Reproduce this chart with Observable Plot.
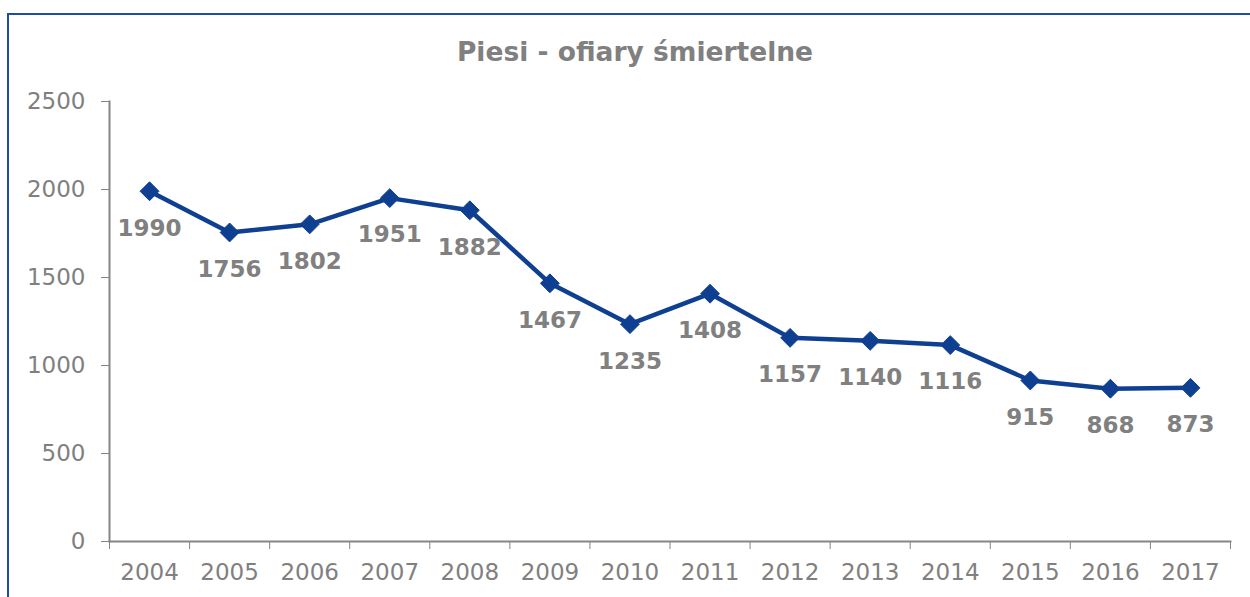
<!DOCTYPE html>
<html>
<head>
<meta charset="utf-8">
<script src="https://cdn.jsdelivr.net/npm/d3@7"></script>
<script src="https://cdn.jsdelivr.net/npm/@observablehq/plot@0.6"></script>
<style>
  html, body { margin: 0; padding: 0; background: #fff; overflow: hidden; }
  #wrap { position: relative; width: 1250px; height: 597px; overflow: hidden; }
  #frame { position: absolute; left: 7px; top: 13px; width: 1400px; height: 800px; border: 2px solid #1f4ea1; box-sizing: border-box; }
  #title { position: relative; height: 80px; box-sizing: border-box; padding-top: 36px; text-align: center; font-family: "DejaVu Sans", Verdana, sans-serif; font-weight: bold; font-size: 26.5px; line-height: 32px; color: #808080; padding-left: 20px; }
  #chart { position: relative; }
</style>
</head>
<body>
<div id="wrap">
  <div id="frame"></div>
  <div id="title">Piesi - ofiary śmiertelne</div>
  <div id="chart"></div>
</div>
<script>
const years = [2004, 2005, 2006, 2007, 2008, 2009, 2010, 2011, 2012, 2013, 2014, 2015, 2016, 2017];
const deaths = [1990, 1756, 1802, 1951, 1882, 1467, 1235, 1408, 1157, 1140, 1116, 915, 868, 873];
const yTicks = [0, 500, 1000, 1500, 2000, 2500];

const data = years.map((y, i) => ({year: y, value: deaths[i]}));
const boundaries = [...years.map(y => y - 0.5), years[years.length - 1] + 0.5];

const gray = "#868686";
const textGray = "#808080";
const blue = "#0f3f91";

const plot = Plot.plot({
  width: 1250,
  height: 517,
  marginLeft: 109,
  marginRight: 20,
  marginTop: 21,
  marginBottom: 56,
  style: {fontFamily: "'DejaVu Sans', Verdana, sans-serif", fontSize: "23px", color: textGray, background: "transparent"},
  x: {type: "linear", domain: [years[0] - 0.5, years[years.length - 1] + 0.5]},
  y: {domain: [0, 2500]},
  marks: [
    Plot.axisY({ticks: yTicks, tickSize: 8, tickPadding: 16, tickFormat: d => String(d), label: null, stroke: gray, strokeOpacity: 1, fill: textGray, fontSize: 23}),
    Plot.axisX({ticks: years, tickSize: 0, tickPadding: 22, tickFormat: d => String(d), label: null, fill: textGray, fontSize: 23}),
    Plot.axisX({ticks: boundaries, tickSize: 8, tickFormat: () => "", label: null, stroke: gray, strokeOpacity: 1}),
    Plot.frame({anchor: "left", stroke: gray, strokeWidth: 2}),
    Plot.frame({anchor: "bottom", stroke: gray, strokeWidth: 2}),
    Plot.line(data, {x: "year", y: "value", stroke: blue, strokeWidth: 4.5}),
    Plot.dot(data, {x: "year", y: "value", symbol: "diamond2", r: 8.5, fill: blue, stroke: blue, strokeWidth: 1}),
    Plot.text(data, {x: "year", y: "value", text: d => String(d.value), dy: 37, fill: textGray, fontWeight: "bold", fontSize: 23})
  ]
});
document.getElementById("chart").appendChild(plot);
</script>
</body>
</html>
